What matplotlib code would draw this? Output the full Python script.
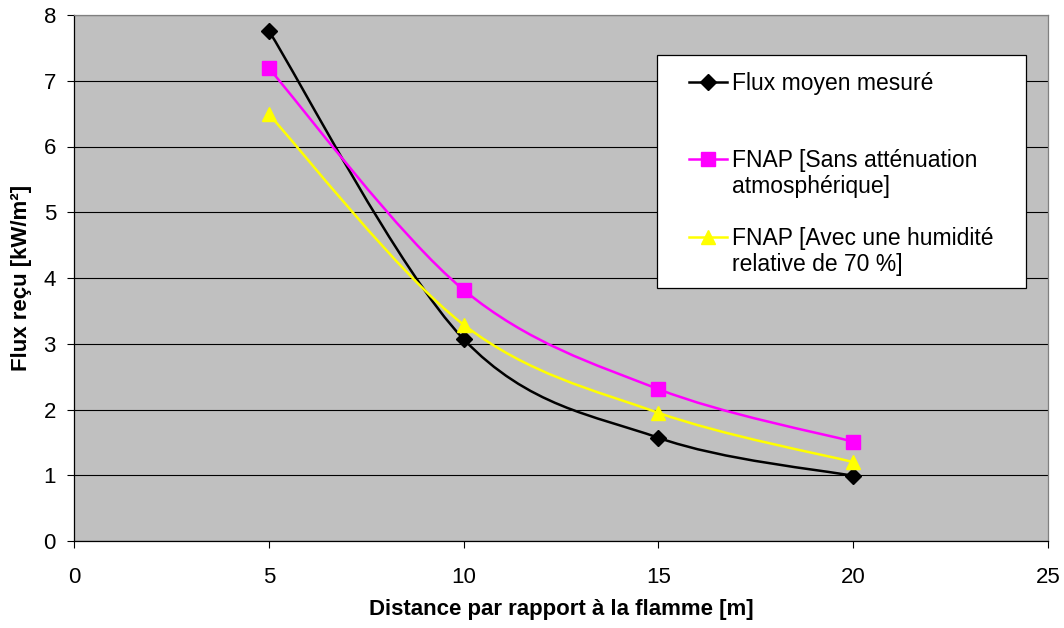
import matplotlib
matplotlib.use("Agg")
import matplotlib.pyplot as plt
from matplotlib.path import Path
from matplotlib.patches import PathPatch, Rectangle
from matplotlib.lines import Line2D

plt.rcParams['font.family'] = ['Liberation Sans', 'DejaVu Sans']

distance = [5, 10, 15, 20]
flux_mesure = [7.76, 3.07, 1.57, 0.99]
fnap_sans = [7.19, 3.82, 2.31, 1.51]
fnap_avec = [6.49, 3.29, 1.95, 1.20]

series = [
    ("Flux moyen mesuré", flux_mesure, "#000000", "D", 8),
    ("FNAP [Sans atténuation\natmosphérique]", fnap_sans, "#FF00FF", "s", 10),
    ("FNAP [Avec une humidité\nrelative de 70 %]", fnap_avec, "#FFFF00", "^", 10),
]

W, H = 1064, 628
fig = plt.figure(figsize=(W / 100, H / 100), dpi=100)
L, R, T, B = 74, 1048, 15, 541
ax = fig.add_axes([L / W, 1 - B / H, (R - L) / W, (B - T) / H])
ax.set_facecolor("#C0C0C0")
ax.set_xlim(0, 25)
ax.set_ylim(0, 8)
ax.set_xticks(range(0, 26, 5))
ax.set_yticks(range(0, 9))
ax.yaxis.grid(True, color="black", linewidth=0.8)
ax.set_axisbelow(True)
ax.tick_params(direction="out", length=5, width=0.8, labelsize=16)
ax.tick_params(axis="y", pad=8)
ax.tick_params(axis="x", pad=14)
for s in ["left", "bottom"]:
    ax.spines[s].set_color("black")
    ax.spines[s].set_linewidth(0.9)
for s in ["top", "right"]:
    ax.spines[s].set_color("#808080")
    ax.spines[s].set_linewidth(0.9)


def smooth_path(xs, ys):
    pts = list(zip(xs, ys))
    verts = [pts[0]]
    codes = [Path.MOVETO]
    n = len(pts)
    for i in range(n - 1):
        p0 = pts[i - 1] if i > 0 else pts[i]
        p1 = pts[i]
        p2 = pts[i + 1]
        p3 = pts[i + 2] if i + 2 < n else pts[i + 1]
        c1 = (p1[0] + (p2[0] - p0[0]) / 6, p1[1] + (p2[1] - p0[1]) / 6)
        c2 = (p2[0] - (p3[0] - p1[0]) / 6, p2[1] - (p3[1] - p1[1]) / 6)
        verts += [c1, c2, p2]
        codes += [Path.CURVE4] * 3
    return Path(verts, codes)


for label, vals, color, marker, ms in series:
    ax.add_patch(PathPatch(smooth_path(distance, vals), facecolor="none",
                           edgecolor=color, linewidth=1.8, zorder=3))
    ax.plot(distance, vals, linestyle="none", marker=marker, markersize=ms,
            color=color, markeredgecolor=color, zorder=4, clip_on=False)

ax.set_xlabel("Distance par rapport à la flamme [m]", fontsize=16,
              fontweight="bold", labelpad=8)
ax.set_ylabel("Flux reçu [kW/m²]", fontsize=16, fontweight="bold", labelpad=8)


# Legend drawn manually in pixel coordinates
def fx(x):
    return x / W


def fy(y):
    return 1 - y / H


fig.patches.append(Rectangle((fx(657), fy(288)), (1026 - 657) / W, (288 - 55) / H,
                             transform=fig.transFigure, facecolor="white",
                             edgecolor="black", linewidth=0.9, zorder=5))
legend_rows = [82, 159, 237]
for (label, vals, color, marker, ms), yrow in zip(series, legend_rows):
    fig.add_artist(Line2D([fx(689), fx(727)], [fy(yrow), fy(yrow)],
                          transform=fig.transFigure, color=color, linewidth=1.8,
                          zorder=6))
    fig.add_artist(Line2D([fx(708)], [fy(yrow)], transform=fig.transFigure,
                          marker=marker, markersize=ms, color=color,
                          linestyle="none", zorder=7))
    lines = label.split("\n")
    for k, line in enumerate(lines):
        fig.text(fx(732), fy(yrow + 8 + 26 * k), line, fontsize=16.5,
                 va="baseline", ha="left", zorder=7)

fig.savefig("out.png", dpi=100)
